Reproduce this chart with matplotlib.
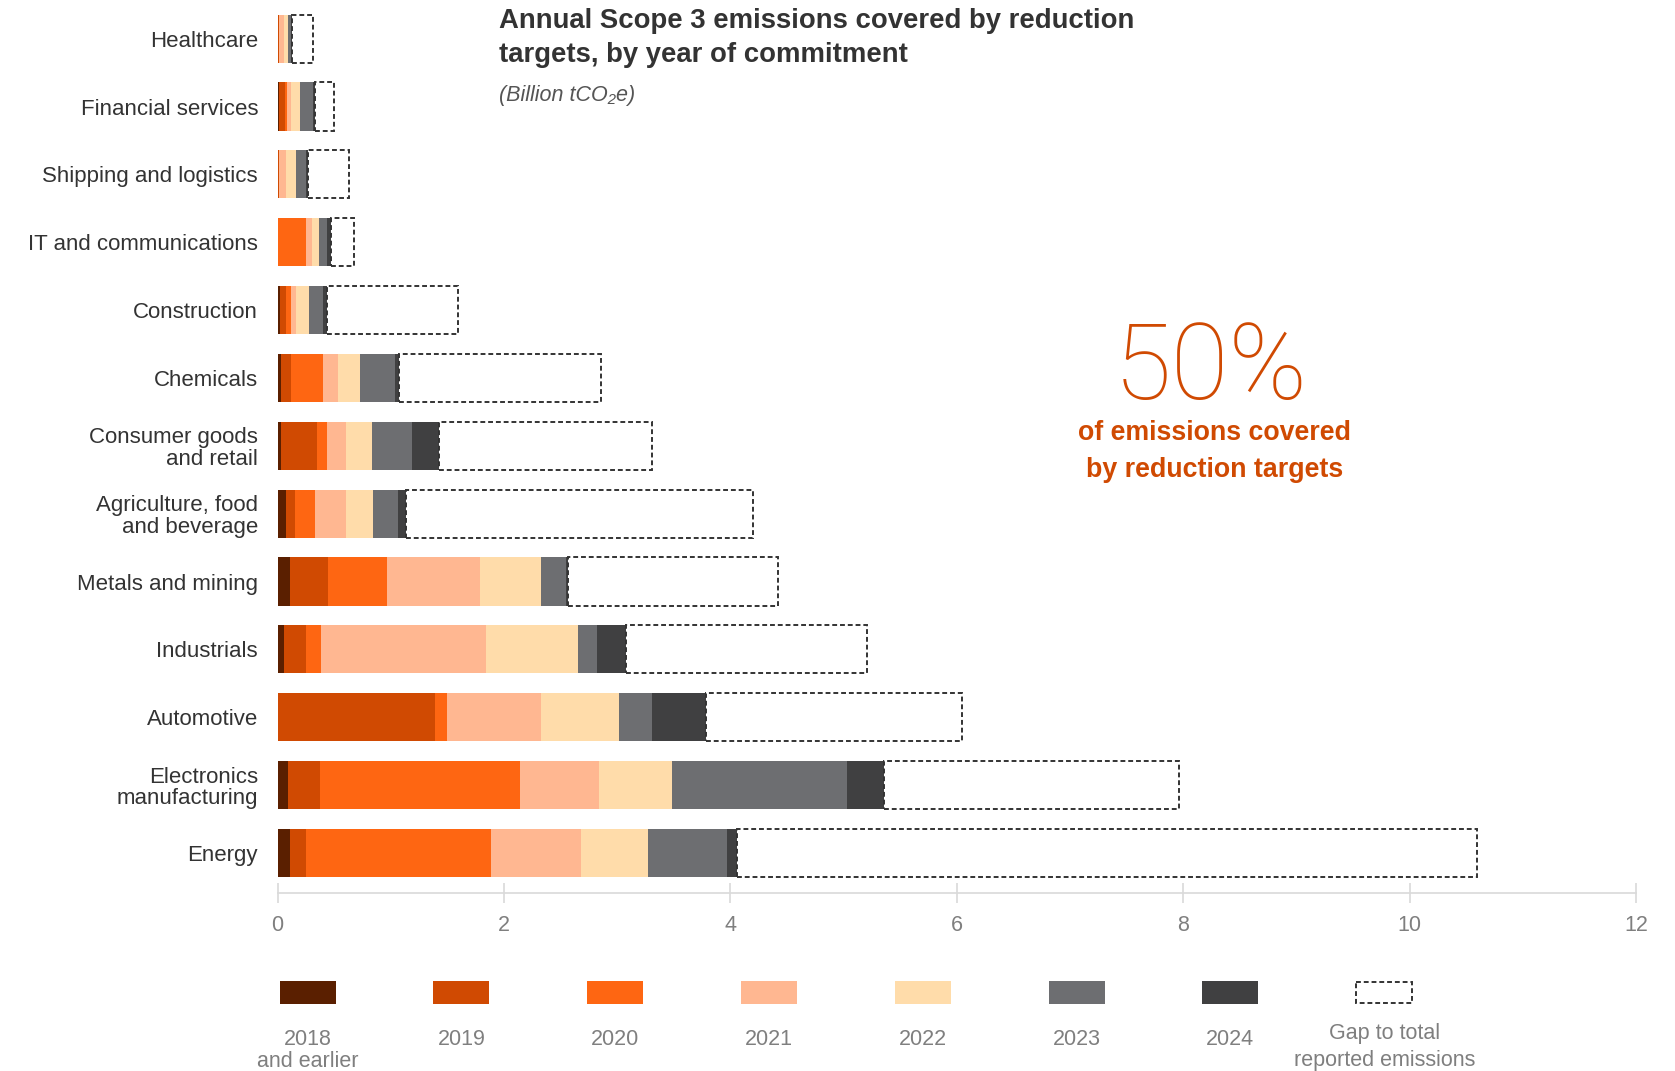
import matplotlib
matplotlib.use("Agg")
import matplotlib.pyplot as plt
from matplotlib.patches import Rectangle
import numpy as np

plt.rcParams['font.family'] = ['Liberation Sans', 'DejaVu Sans']

# sectors, top to bottom as in the chart
sectors = ["Healthcare", "Financial services", "Shipping and logistics",
           "IT and communications", "Construction", "Chemicals",
           "Consumer goods\nand retail", "Agriculture, food\nand beverage",
           "Metals and mining", "Industrials", "Automotive",
           "Electronics\nmanufacturing", "Energy"]

# emissions covered by targets, by year of commitment (billion tCO2e)
y2018 = [0, 0.012, 0, 0, 0.022, 0.027, 0.027, 0.071, 0.106, 0.058, 0, 0.092, 0.113]
y2019 = [0.010, 0.058, 0.009, 0, 0.053, 0.092, 0.318, 0.079, 0.336, 0.194, 1.391, 0.282, 0.141]
y2020 = [0.004, 0.012, 0, 0.252, 0.044, 0.283, 0.088, 0.177, 0.521, 0.134, 0.107, 1.768, 1.634]
y2021 = [0.040, 0.038, 0.065, 0.053, 0.044, 0.132, 0.168, 0.274, 0.824, 1.455, 0.828, 0.697, 0.796]
y2022 = [0.040, 0.080, 0.088, 0.062, 0.115, 0.195, 0.229, 0.238, 0.536, 0.813, 0.690, 0.647, 0.591]
y2023 = [0.023, 0.117, 0.088, 0.070, 0.124, 0.311, 0.354, 0.221, 0.221, 0.168, 0.291, 1.543, 0.698]
y2024 = [0.011, 0.015, 0.015, 0.036, 0.038, 0.030, 0.241, 0.073, 0.020, 0.257, 0.474, 0.324, 0.084]
# total reported Scope 3 emissions per sector
totals = [0.31, 0.50, 0.627, 0.679, 1.594, 2.86, 3.305, 4.20, 4.418, 5.21, 6.047, 7.966, 10.60]

years = ["2018\nand earlier", "2019", "2020", "2021", "2022", "2023", "2024"]
colors = ["#5a1f00", "#d04a02", "#fe6612", "#ffb791", "#ffdcaa", "#6d6e71", "#404041"]
series = [y2018, y2019, y2020, y2021, y2022, y2023, y2024]

fig = plt.figure(figsize=(16.75, 10.71), dpi=100)
ax = fig.add_axes([0.1657, 0.1662, 0.811, 0.8338])

ypos = np.arange(len(sectors))[::-1]
h = 0.71
left = np.zeros(len(sectors))
for vals, c in zip(series, colors):
    ax.barh(ypos, vals, left=left, height=h, color=c, linewidth=0)
    left += np.array(vals)

# gap to total reported emissions
ax.barh(ypos, np.array(totals) - left, left=left, height=h, facecolor="white",
        edgecolor="#333333", linestyle=(0, (2.5, 1.5)), linewidth=1.4)

ax.set_xlim(0, 12)
ax.set_ylim(-0.59, 12.57)
ax.set_xticks(range(0, 13, 2))
ax.set_yticks(ypos)
ax.set_yticklabels(sectors, fontsize=16, color="#333333", linespacing=1.05)
ax.tick_params(axis="y", length=0, pad=14)
ax.tick_params(axis="x", direction="inout", length=14, width=1.2, color="#d9d9d9",
               labelsize=15.5, labelcolor="#7f7f7f", pad=9)
for s in ["top", "right", "left"]:
    ax.spines[s].set_visible(False)
ax.spines["bottom"].set_color("#d9d9d9")
ax.spines["bottom"].set_linewidth(1.2)

# titles
fig.text(499 / 1675, 1 - 8 / 1071,
         "Annual Scope 3 emissions covered by reduction\ntargets, by year of commitment",
         ha="left", va="top", fontsize=19.8, fontweight="bold", color="#333333",
         linespacing=1.38)
fig.text(499 / 1675, 1 - 95 / 1071, "(Billion tCO\u2082e)", ha="left", va="center",
         fontsize=15.5, style="italic", color="#555555")

# call-out
fig.text(1211 / 1675, 1 - 370 / 1071, "50%", ha="center", va="center",
         fontsize=76, fontweight="light", color="#d04a02",
         family=["Roboto", "Liberation Sans"])
fig.text(1215 / 1675, 1 - 451 / 1071, "of emissions covered\nby reduction targets",
         ha="center", va="center", fontsize=19.3, fontweight="bold", color="#d04a02",
         linespacing=1.55)

# legend along the bottom, in pixel units
lax = fig.add_axes([0, 0, 1, 100 / 1071])
lax.set_xlim(0, 1675)
lax.set_ylim(1071, 971)
lax.axis("off")
for i, (lab, c) in enumerate(zip(years, colors)):
    cx = 307.6 + i * 153.8
    lax.add_patch(Rectangle((cx - 28, 981), 56, 23, facecolor=c, linewidth=0))
    lax.text(cx, 1029, lab, ha="center", va="top", fontsize=15.5, color="#7f7f7f",
             linespacing=1.05)
cx = 307.6 + 7 * 153.8
lax.add_patch(Rectangle((cx - 28, 982), 56, 21, facecolor="white", edgecolor="#333333",
                        linestyle=(0, (2.5, 1.5)), linewidth=1.4))
lax.text(cx, 1023, "Gap to total\nreported emissions", ha="center", va="top",
         fontsize=15.5, color="#7f7f7f", linespacing=1.38)

fig.savefig("out.png", dpi=100)
